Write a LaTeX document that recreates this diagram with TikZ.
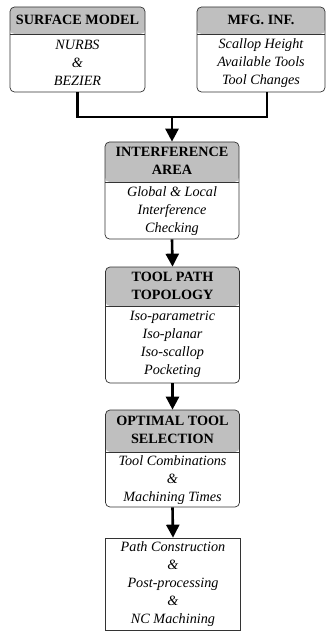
\documentclass[tikz,border=0pt]{standalone}
\usepackage{fontspec}
\setmainfont{Liberation Serif}
\usetikzlibrary{arrows.meta}

\tikzset{
	stage/.style={draw=black!80, line width=0.7pt, rounded corners=4.5pt, inner sep=0pt,
		path picture={
			\fill[gray!50] (path picture bounding box.north west) rectangle ([yshift=-#1]path picture bounding box.north east);
			\draw[black!80, line width=0.7pt] ([yshift=-#1]path picture bounding box.north west) -- ([yshift=-#1]path picture bounding box.north east);
		}},
	plainbox/.style={draw=black!80, line width=0.7pt, inner sep=0pt},
	head/.style={font=\fontsize{14.2}{18}\selectfont\bfseries, align=center, inner sep=0pt},
	body/.style={font=\fontsize{14.2}{18}\selectfont\itshape, align=center, inner sep=0pt},
	link/.style={line width=2.6pt},
	flow/.style={line width=2.6pt, -{Triangle[length=13pt, width=13pt]}}
}

\begin{document}
\begin{tikzpicture}[x=1pt, y=-1pt]
	\useasboundingbox (0,0) rectangle (327,631); % Rand wie Vorlage
	
	% Kaesten
	\node[stage=27pt, minimum width=135pt, minimum height=85pt] (surf) at (77.5,49.5) {};
	\node[stage=27pt, minimum width=128pt, minimum height=85pt] (mfg) at (261,49.5) {};
	\node[stage=40pt, minimum width=134pt, minimum height=97pt] (interf) at (172,190.5) {};
	\node[stage=39pt, minimum width=134pt, minimum height=116pt] (tool) at (172.5,325) {};
	\node[stage=42pt, minimum width=134pt, minimum height=97pt] (optim) at (172.5,458.5) {};
	\node[plainbox, minimum width=135pt, minimum height=92pt] (final) at (173,584) {};
	
	% Texte
	\node[head] (surf-h) at (77.5,20) {SURFACE MODEL};
	\node[body] (surf-b) at (77.5,62.5) {NURBS\\\&\\BEZIER};
	\node[head] (mfg-h) at (261,20) {MFG. INF.};
	\node[body] (mfg-b) at (261,63) {Scallop Height\\Available Tools\\Tool Changes};
	\node[head] (interf-h) at (172,161) {INTERFERENCE\\AREA};
	\node[body] (interf-b) at (172,211) {Global \& Local\\Interference\\Checking};
	\node[head] (tool-h) at (172.5,286) {TOOL PATH\\TOPOLOGY};
	\node[body] (tool-b) at (172.5,344.5) {Iso-parametric\\Iso-planar\\Iso-scallop\\Pocketing};
	\node[head] (optim-h) at (172.5,430) {OPTIMAL TOOL\\SELECTION};
	\node[body] (optim-b) at (172.5,480) {Tool Combinations\\\&\\Machining Times};
	\node[body] (final-b) at (173,584) {Path Construction\\\&\\Post-processing\\\&\\NC Machining};
	
	% Verbindungen
	\coordinate (join) at (172,117);
	\draw[link] (surf.south) |- (join) -| ([xshift=6pt]mfg.south);
	\draw[flow] (join) -- (interf.north);
	\draw[flow] (interf.south) -- (tool.north);
	\draw[flow] (tool.south) -- (optim.north);
	\draw[flow] (optim.south) -- (final.north);
\end{tikzpicture}
\end{document}
